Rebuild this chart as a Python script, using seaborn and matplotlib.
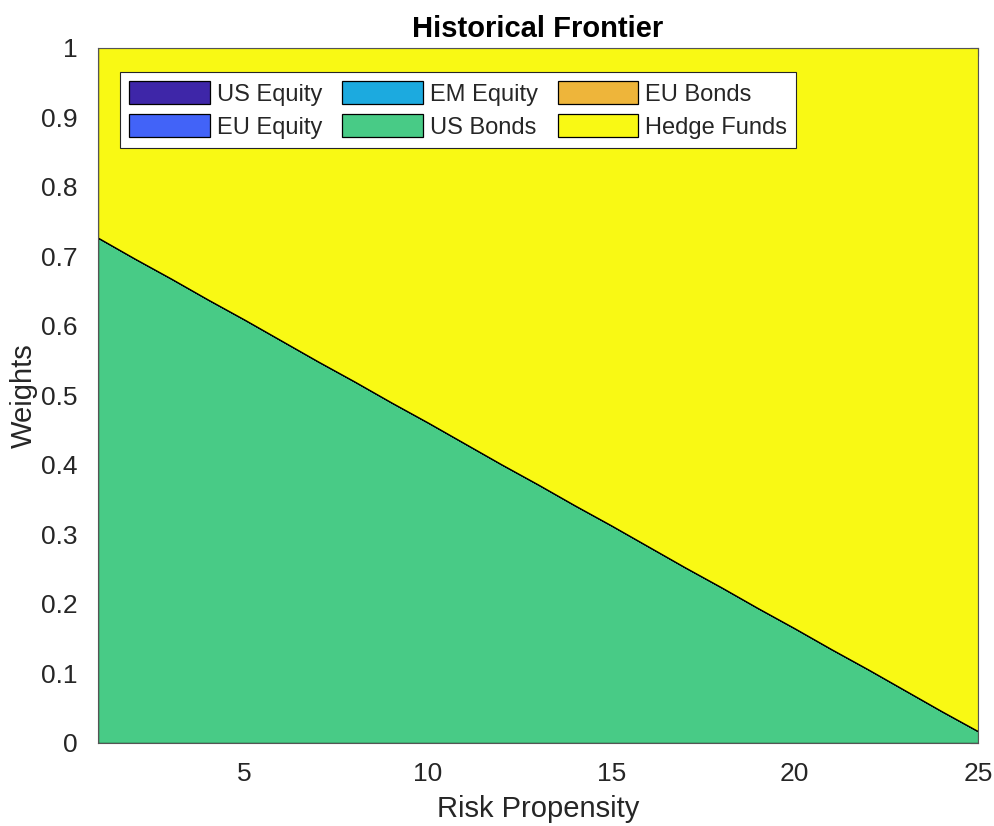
import numpy as np
import pandas as pd
import matplotlib
matplotlib.use("Agg")
import matplotlib.pyplot as plt
import seaborn as sns

# Portfolio weights along the frontier, one value per risk propensity level
risk_propensity = list(range(1, 26))
assets = ["US Equity", "EU Equity", "EM Equity", "US Bonds", "EU Bonds", "Hedge Funds"]
us_equity = [0.0] * 25
eu_equity = [0.0] * 25
em_equity = [0.0] * 25
us_bonds = [0.727, 0.697, 0.668, 0.638, 0.609, 0.579, 0.549, 0.520, 0.490,
            0.461, 0.431, 0.401, 0.372, 0.342, 0.313, 0.283, 0.253, 0.224,
            0.194, 0.165, 0.135, 0.106, 0.076, 0.046, 0.017]
eu_bonds = [0.0] * 25
hedge_funds = [0.273, 0.303, 0.332, 0.362, 0.391, 0.421, 0.451, 0.480, 0.510,
               0.539, 0.569, 0.599, 0.628, 0.658, 0.687, 0.717, 0.747, 0.776,
               0.806, 0.835, 0.865, 0.894, 0.924, 0.954, 0.983]
y_ticks = [0, 0.1, 0.2, 0.3, 0.4, 0.5, 0.6, 0.7, 0.8, 0.9, 1]
y_tick_labels = ["0", "0.1", "0.2", "0.3", "0.4", "0.5", "0.6", "0.7", "0.8", "0.9", "1"]
x_ticks = [5, 10, 15, 20, 25]

df = pd.DataFrame({
    "Risk Propensity": risk_propensity,
    "US Equity": us_equity,
    "EU Equity": eu_equity,
    "EM Equity": em_equity,
    "US Bonds": us_bonds,
    "EU Bonds": eu_bonds,
    "Hedge Funds": hedge_funds,
})

sns.set_theme(style="white")
plt.rcParams["font.family"] = ["Liberation Sans", "DejaVu Sans"]
text_color = "#262626"

palette = sns.color_palette(["#3e26a8", "#4263f8", "#1caadf", "#48cb86", "#eeb53a", "#f9f914"])

fig = plt.figure(figsize=(9.95, 8.26), dpi=100)
ax = fig.add_axes([0.0985, 0.1005, 0.8845, 0.8415])

ax.stackplot(df["Risk Propensity"], [df[a] for a in assets], labels=assets,
             colors=palette, edgecolor="black", linewidth=0.9)

ax.set_xlim(1, 25)
ax.set_ylim(0, 1)
ax.set_xticks(x_ticks)
ax.set_yticks(y_ticks)
ax.set_yticklabels(y_tick_labels)
ax.tick_params(axis="both", direction="in", length=6, width=0.8, colors=text_color,
               labelsize=19, top=True, right=True)
ax.tick_params(axis="x", pad=14)
ax.tick_params(axis="y", pad=15)
for s in ax.spines.values():
    s.set_color("#555555")
    s.set_linewidth(0.8)
    s.set_zorder(5)

ax.set_xlabel("Risk Propensity", fontsize=21, color=text_color, labelpad=6)
ax.set_ylabel("Weights", fontsize=21, color=text_color, labelpad=2)
ax.set_title("Historical Frontier", fontsize=21, fontweight="bold", color="black", pad=8)

leg = ax.legend(loc="upper left", bbox_to_anchor=(0.025, 0.966), ncol=3,
                fontsize=17, frameon=True, fancybox=False, framealpha=1,
                edgecolor=text_color, handlelength=3.4, handleheight=1.15,
                handletextpad=0.3, columnspacing=0.85, labelspacing=0.35,
                borderpad=0.4, borderaxespad=0)
leg.get_frame().set_linewidth(0.8)

fig.savefig("out.png", dpi=100, facecolor="white")
